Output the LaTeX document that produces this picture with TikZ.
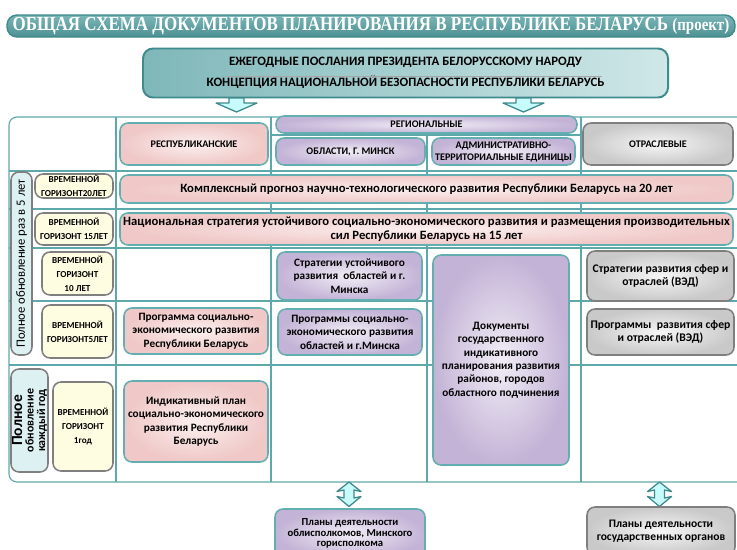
\documentclass[tikz,border=0pt]{standalone}
\usepackage{fontspec}
\setmainfont{Carlito}
\newfontfamily\titlefont[FakeStretch=0.85]{Liberation Serif}
\definecolor{tealbd}{HTML}{62AEB0}
\definecolor{tealdk}{HTML}{3F8A8C}
\definecolor{titletop}{HTML}{7AB5B7}
\definecolor{titlebot}{HTML}{4E9193}
\definecolor{poslL}{HTML}{7FB7B9}
\definecolor{poslR}{HTML}{CFE7E7}
\definecolor{pinkout}{HTML}{EFC8C7}
\definecolor{pinkin}{HTML}{FBF0EF}
\definecolor{lilacout}{HTML}{C3B3D6}
\definecolor{lilacin}{HTML}{F1EDF6}
\definecolor{greyout}{HTML}{C9C9C9}
\definecolor{greyin}{HTML}{F6F6F6}
\definecolor{greybd}{HTML}{7F7F7F}
\definecolor{yellowfill}{HTML}{FFFDE1}
\definecolor{cyanfill}{HTML}{DDF1F2}
\definecolor{arrfill}{HTML}{C8FBFB}
\definecolor{gridline}{HTML}{5DA8AA}
\newcommand{\hdrfont}{\fontsize{7.2}{8.5}\selectfont\bfseries}
\newcommand{\rowfont}{\fontsize{9}{10}\selectfont\bfseries}
\newcommand{\cellfont}{\fontsize{8}{9.6}\selectfont\bfseries}
\newcommand{\horfont}{\fontsize{6.5}{10}\selectfont\bfseries}

\begin{document}
\begin{tikzpicture}[x=0.25mm, y=-0.25mm,
  cell/.style={rounded corners=2mm, line width=1.1pt, align=center,
    inner sep=1pt, font=\cellfont, text=black},
  pinkcell/.style={cell, draw=tealbd, inner color=pinkin, outer color=pinkout},
  lilaccell/.style={cell, draw=tealbd, inner color=lilacin, outer color=lilacout},
  greycell/.style={cell, draw=greybd, inner color=greyin, outer color=greyout},
  horcell/.style={cell, draw=greybd, fill=yellowfill, font=\horfont, inner sep=0pt},
  updcell/.style={cell, draw=greybd, fill=cyanfill, rotate=90, inner sep=0pt},
  grid/.style={draw=gridline, line width=0.8pt},
  blockarr/.style={draw=tealdk, fill=arrfill, line width=0.9pt, line join=round},
]
\useasboundingbox (0,0) rectangle (737,549);
\clip (0,0) rectangle (737,549);

% Title
\node[draw=tealdk, line width=1pt, top color=titletop, bottom color=titlebot,
  rounded corners=2.5mm, minimum width=182mm, minimum height=5.5mm, inner sep=0pt,
  text=white] (title) at (371,26)
  {\titlefont\bfseries\fontsize{14.2}{16}\selectfont ОБЩАЯ СХЕМА ДОКУМЕНТОВ ПЛАНИРОВАНИЯ В РЕСПУБЛИКЕ БЕЛАРУСЬ {\fontsize{12.5}{16}\selectfont(проект)}};

% =============================================
% Top level documents
% =============================================
\node[draw=tealdk, line width=1.4pt, left color=poslL, right color=poslR,
  rounded corners=2.5mm, minimum width=131.25mm, minimum height=12.25mm,
  align=center, font=\fontsize{9.1}{15}\selectfont\bfseries] (posl) at (405.5,73)
  {ЕЖЕГОДНЫЕ ПОСЛАНИЯ ПРЕЗИДЕНТА БЕЛОРУССКОМУ НАРОДУ\\
   КОНЦЕПЦИЯ НАЦИОНАЛЬНОЙ БЕЗОПАСНОСТИ РЕСПУБЛИКИ БЕЛАРУСЬ};
\draw[gray!70, line width=0.4pt] ([xshift=-45mm, yshift=-0.8mm]posl.center) -- ([xshift=49mm, yshift=-0.8mm]posl.center);

% down arrows
\coordinate (arrL) at (236.5,98);
\coordinate (arrR) at (523.5,98);
\foreach \a in {arrL, arrR}
  \draw[blockarr] (\a) ++(-7.5,0) -- ++(15,0) -- ++(0,5) -- ++(13,0) -- ++(-20.5,9)
    -- ++(-20.5,-9) -- ++(13,0) -- cycle;

% =============================================
% Table grid
% =============================================
\draw[grid, rounded corners=2mm] (9,117) rectangle (760,482);
\draw[grid] (9,171) -- (737,171);
\draw[grid] (9,209) -- (737,209);
\draw[grid] (9,248) -- (737,248);
\draw[grid] (9,301) -- (737,301);
\draw[grid] (9,365) -- (737,365);
\draw[grid] (271,135) -- (581,135);
\draw[grid] (116,117) -- (116,482);
\draw[grid] (271,117) -- (271,482);
\draw[grid] (427,135) -- (427,482);
\draw[grid] (581,117) -- (581,482);

% =============================================
% Column headers
% =============================================
\node[pinkcell, font=\hdrfont, minimum width=37mm, minimum height=10.5mm] (resp) at (194,144) {РЕСПУБЛИКАНСКИЕ};
\node[lilaccell, font=\hdrfont, minimum width=75.25mm, minimum height=4.25mm, inner sep=0pt] (regio) at (426.5,124.5) {РЕГИОНАЛЬНЫЕ};
\node[lilaccell, font=\hdrfont, minimum width=37.25mm, minimum height=6.75mm] (obl) at (350.5,151.5) {ОБЛАСТИ, Г. МИНСК};
\node[lilaccell, font=\hdrfont, minimum width=35.75mm, minimum height=6.75mm, inner sep=0pt] (ate) at (503.5,151.5) {АДМИНИСТРАТИВНО-\\ТЕРРИТОРИАЛЬНЫЕ ЕДИНИЦЫ};
\node[greycell, font=\hdrfont, minimum width=37.5mm, minimum height=10.5mm] (otr) at (658,144) {ОТРАСЛЕВЫЕ};

% =============================================
% Time horizons
% =============================================
\node[updcell, font=\fontsize{9}{10}\selectfont, minimum width=45.75mm, minimum height=5.25mm] (upd5) at (21.5,263.5) {Полное обновление раз в 5 лет};
\node[updcell, font=\fontsize{8.5}{8.2}\selectfont\bfseries, minimum width=25.75mm, minimum height=9.25mm] (upd1) at (29.5,420.5)
  {{\fontsize{11}{9}\selectfont Полное}\\обновление\\каждый год};

\node[horcell, minimum width=19.5mm, minimum height=6mm] (h20) at (74,186) {ВРЕМЕННОЙ\\ГОРИЗОНТ20ЛЕТ};
\node[horcell, minimum width=19.5mm, minimum height=8mm] (h15) at (74,229) {ВРЕМЕННОЙ\\ГОРИЗОНТ 15ЛЕТ};
\node[horcell, minimum width=17.75mm, minimum height=10.75mm] (h10) at (77.5,273.5) {ВРЕМЕННОЙ\\ГОРИЗОНТ\\10 ЛЕТ};
\node[horcell, minimum width=17.75mm, minimum height=13.25mm] (h5) at (77.5,331.5) {ВРЕМЕННОЙ\\ГОРИЗОНТ5ЛЕТ};
\node[horcell, minimum width=15mm, minimum height=22.25mm] (h1) at (83,426.5) {ВРЕМЕННОЙ\\ГОРИЗОНТ\\1год};

% =============================================
% Planning documents
% =============================================
\node[pinkcell, font=\rowfont, minimum width=153.25mm, minimum height=7mm] (prog20) at (426.5,189)
  {Комплексный прогноз научно-технологического развития Республики Беларусь на 20 лет};
\node[pinkcell, font=\rowfont, minimum width=153.25mm, minimum height=8mm, inner sep=0pt] (nss15) at (426.5,229)
  {Национальная стратегия устойчивого социально-экономического развития и размещения производительных\\сил Республики Беларусь на 15 лет};

\node[lilaccell, minimum width=36.25mm, minimum height=12mm] (strobl) at (349.5,276)
  {Стратегии устойчивого\\развития~ областей и г.\\Минска};
\node[lilaccell, minimum width=34mm, minimum height=52.5mm] (docs) at (501,360)
  {Документы\\государственного\\индикативного\\планирования развития\\районов, городов\\областного подчинения};
\node[greycell, font=\fontsize{8.3}{9.8}\selectfont\bfseries, minimum width=36.75mm, minimum height=12.5mm] (strotr) at (660.5,276)
  {Стратегии развития сфер и\\отраслей (ВЭД)};

\node[pinkcell, minimum width=36mm, minimum height=11.5mm] (psrb) at (196,331)
  {Программа социально-\\экономического развития\\Республики Беларусь};
\node[lilaccell, minimum width=36mm, minimum height=11.5mm] (psobl) at (350,332)
  {Программы социально-\\экономического развития\\областей и г.Минска};
\node[greycell, font=\fontsize{8.3}{9.8}\selectfont\bfseries, minimum width=36.75mm, minimum height=11.5mm] (protr) at (660.5,332)
  {Программы~ развития сфер\\и отраслей (ВЭД)};

\node[pinkcell, minimum width=36mm, minimum height=20.25mm] (indpl) at (196,421.5)
  {Индикативный план\\социально-экономического\\развития Республики\\Беларусь};

% =============================================
% Activity plans
% =============================================
\coordinate (dblL) at (349,482);
\coordinate (dblR) at (659.5,482);
\foreach \a in {dblL, dblR}
  \draw[blockarr] (\a) -- ++(12,9.5) -- ++(-7,-1.5) -- ++(0,8) -- ++(7,-1.5)
    -- ++(-12,10) -- ++(-12,-10) -- ++(7,1.5) -- ++(0,-8) -- ++(-7,1.5) -- cycle;

\node[lilaccell, font=\fontsize{7.6}{7.6}\selectfont\bfseries, minimum width=37.5mm, minimum height=12.25mm] (plobl) at (350,533.5)
  {Планы деятельности\\облисполкомов, Минского\\горисполкома};
\node[greycell, font=\fontsize{8.2}{8.8}\selectfont\bfseries, minimum width=37mm, minimum height=12mm] (plgos) at (661,531)
  {Планы деятельности\\государственных органов};

\end{tikzpicture}
\end{document}
